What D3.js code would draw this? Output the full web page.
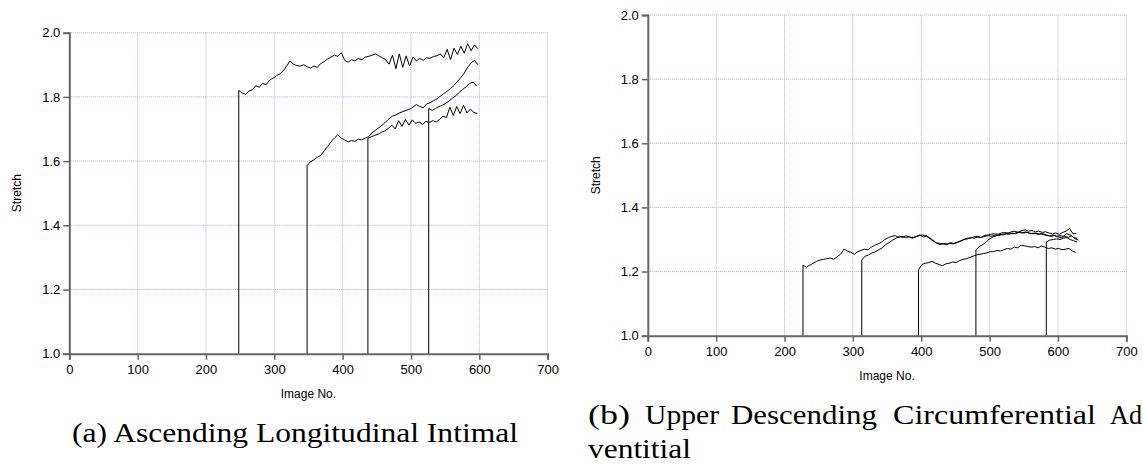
<!DOCTYPE html>
<html>
<head>
<meta charset="UTF-8">
<title></title>
<style>
  body { margin: 0; background: #fff; }
  svg { display: block; }
</style>
</head>
<body>
<div id="chart"></div>
<script src="https://d3js.org/d3.v7.min.js"></script>
<script>
// ---- data: each series starts at `start`, one value every 5 images ----
var step = 5;
var xTicks = [0, 100, 200, 300, 400, 500, 600, 700];
var yTicks = [1.0, 1.2, 1.4, 1.6, 1.8, 2.0];

// (a) Ascending Longitudinal Intimal
var aStarts = [248, 348, 437, 526];
var a1 = [1.820, 1.812, 1.808, 1.818, 1.822, 1.835, 1.830, 1.842, 1.838, 1.852,
  1.858, 1.866, 1.872, 1.880, 1.896, 1.912, 1.902, 1.898, 1.896, 1.900,
  1.894, 1.890, 1.896, 1.892, 1.904, 1.910, 1.918, 1.924, 1.930, 1.926,
  1.938, 1.914, 1.908, 1.916, 1.912, 1.920, 1.916, 1.924, 1.926, 1.930,
  1.934, 1.928, 1.922, 1.916, 1.902, 1.930, 1.888, 1.934, 1.892, 1.928,
  1.896, 1.924, 1.912, 1.920, 1.914, 1.922, 1.920, 1.926, 1.928, 1.934,
  1.922, 1.948, 1.916, 1.952, 1.932, 1.958, 1.936, 1.966, 1.944, 1.962,
  1.950];
var a2 = [1.586, 1.598, 1.604, 1.612, 1.618, 1.632, 1.645, 1.660, 1.672, 1.682,
  1.672, 1.666, 1.660, 1.664, 1.662, 1.668, 1.666, 1.672, 1.676, 1.688,
  1.696, 1.704, 1.712, 1.722, 1.732, 1.740, 1.744, 1.750, 1.754, 1.758,
  1.762, 1.768, 1.776, 1.770, 1.766, 1.778, 1.782, 1.788, 1.794, 1.802,
  1.810, 1.818, 1.826, 1.836, 1.848, 1.860, 1.874, 1.892, 1.906, 1.914,
  1.900];
var a3 = [1.671, 1.676, 1.680, 1.684, 1.690, 1.694, 1.702, 1.712, 1.700, 1.726,
  1.708, 1.730, 1.712, 1.728, 1.718, 1.722, 1.714, 1.724, 1.720, 1.726,
  1.722, 1.730, 1.740, 1.736, 1.768, 1.742, 1.770, 1.748, 1.774, 1.750,
  1.762, 1.752, 1.748];
var a4 = [1.764, 1.758, 1.764, 1.770, 1.774, 1.780, 1.788, 1.796, 1.804, 1.814,
  1.824, 1.832, 1.842, 1.846, 1.834];

// (b) Upper Descending Circumferential Adventitial
var bStarts = [227, 313, 396, 480, 583];
var b1 = [1.220, 1.214, 1.220, 1.226, 1.232, 1.236, 1.238, 1.240, 1.242, 1.238,
  1.246, 1.254, 1.270, 1.264, 1.260, 1.254, 1.262, 1.266, 1.270, 1.268,
  1.276, 1.282, 1.286, 1.292, 1.300, 1.306, 1.310, 1.312, 1.306, 1.310,
  1.306, 1.308, 1.304, 1.308, 1.312, 1.314, 1.312, 1.306, 1.298, 1.290,
  1.288, 1.286, 1.284, 1.288, 1.286, 1.290, 1.294, 1.300, 1.304, 1.304,
  1.308, 1.310, 1.306, 1.312, 1.314, 1.316, 1.318, 1.316, 1.320, 1.322,
  1.320, 1.324, 1.326, 1.322, 1.328, 1.330, 1.326, 1.328, 1.324, 1.326,
  1.322, 1.324, 1.320, 1.318, 1.320, 1.316, 1.322, 1.326, 1.334, 1.318,
  1.318];
var b2 = [1.236, 1.248, 1.252, 1.258, 1.262, 1.268, 1.274, 1.284, 1.290, 1.298,
  1.304, 1.310, 1.306, 1.312, 1.308, 1.306, 1.310, 1.314, 1.308, 1.310,
  1.302, 1.294, 1.288, 1.284, 1.288, 1.286, 1.290, 1.288, 1.292, 1.296,
  1.300, 1.302, 1.306, 1.304, 1.308, 1.306, 1.310, 1.312, 1.310, 1.314,
  1.312, 1.316, 1.318, 1.316, 1.320, 1.318, 1.322, 1.320, 1.324, 1.320,
  1.318, 1.320, 1.316, 1.318, 1.314, 1.312, 1.314, 1.310, 1.312, 1.310,
  1.318, 1.314, 1.306, 1.304];
var b3 = [1.205, 1.222, 1.226, 1.228, 1.232, 1.226, 1.222, 1.218, 1.224, 1.226,
  1.230, 1.228, 1.234, 1.238, 1.240, 1.244, 1.248, 1.252, 1.254, 1.256,
  1.258, 1.262, 1.262, 1.266, 1.264, 1.268, 1.272, 1.270, 1.276, 1.274,
  1.282, 1.280, 1.278, 1.276, 1.278, 1.274, 1.280, 1.276, 1.272, 1.274,
  1.270, 1.272, 1.268, 1.270, 1.272, 1.264, 1.260];
var b4 = [1.268, 1.278, 1.284, 1.292, 1.302, 1.308, 1.312, 1.316, 1.314, 1.318,
  1.320, 1.318, 1.322, 1.324, 1.320, 1.322, 1.318, 1.320, 1.316, 1.318,
  1.314, 1.312, 1.310, 1.312, 1.308, 1.306, 1.310, 1.306, 1.312, 1.302,
  1.298];
var b5 = [1.292, 1.298, 1.300, 1.302, 1.300, 1.304, 1.306, 1.300, 1.296, 1.292];

var width = 1143, height = 466;
var sans = "'Liberation Sans', Arial, Helvetica, sans-serif";
var serif = "'Liberation Serif', 'Times New Roman', serif";

var svg = d3.select("#chart")
  .append("svg")
  .attr("width", width)
  .attr("height", height);

function panel(box, starts, series) {
  var x = d3.scaleLinear().domain([0, 700]).range([box.left, box.right]);
  var y = d3.scaleLinear().domain([1, 2]).range([box.bottom, box.top]);
  var g = svg.append("g");

  // grid
  g.selectAll(".vg")
    .data(xTicks.slice(1))
    .join("line")
    .attr("x1", function(d) { return x(d); })
    .attr("x2", function(d) { return x(d); })
    .attr("y1", y(1)).attr("y2", y(2))
    .attr("stroke", "#aaaaff").attr("stroke-width", 1)
    .attr("stroke-dasharray", "1,1");
  g.selectAll(".hg")
    .data(yTicks.slice(1))
    .join("line")
    .attr("x1", x(0)).attr("x2", x(700))
    .attr("y1", function(d) { return y(d); })
    .attr("y2", function(d) { return y(d); })
    .attr("stroke", "#aaaaff").attr("stroke-width", 1)
    .attr("stroke-dasharray", "1,1");

  // series: vertical jump from 1.0 then the trace
  var line = d3.line()
    .x(function(d) { return x(d[0]); })
    .y(function(d) { return y(d[1]); });
  series.forEach(function(vals, i) {
    var pts = [[starts[i], 1]];
    vals.forEach(function(v, k) { pts.push([starts[i] + k * step, v]); });
    g.append("path")
      .datum(pts)
      .attr("d", line)
      .attr("fill", "none")
      .attr("stroke", "#000")
      .attr("stroke-width", 1);
  });

  // axes
  var xa = g.append("g")
    .attr("transform", "translate(0," + y(1) + ")")
    .call(d3.axisBottom(x).tickValues(xTicks).tickSize(6).tickPadding(5));
  var ya = g.append("g")
    .attr("transform", "translate(" + x(0) + ",0)")
    .call(d3.axisLeft(y).tickValues(yTicks).tickFormat(d3.format(".1f")).tickSize(6).tickPadding(3));
  [xa, ya].forEach(function(a) {
    a.attr("font-family", sans).attr("font-size", 13);
    a.select(".domain").attr("stroke", "#666").attr("stroke-width", 2);
    a.selectAll(".tick line").attr("stroke", "#666").attr("stroke-width", 1.5);
    a.selectAll("text").attr("fill", "#000");
  });

  g.append("text")
    .attr("x", (box.left + box.right) / 2)
    .attr("y", box.bottom + 44)
    .attr("text-anchor", "middle")
    .attr("font-family", sans)
    .attr("font-size", 12)
    .text("Image No.");
  g.append("text")
    .attr("transform", "translate(" + (box.left - 48) + "," + ((box.top + box.bottom) / 2) + ") rotate(-90)")
    .attr("text-anchor", "middle")
    .attr("font-family", sans)
    .attr("font-size", 12)
    .text("Stretch");
}

panel({ left: 69.3, right: 547.6, top: 32.7, bottom: 353.7 }, aStarts, [a1, a2, a3, a4]);
panel({ left: 647.8, right: 1126.3, top: 15, bottom: 335.7 }, bStarts, [b1, b2, b3, b4, b5]);

// captions
svg.append("text")
  .attr("x", 72).attr("y", 442)
  .attr("textLength", 446).attr("lengthAdjust", "spacingAndGlyphs")
  .attr("font-family", serif).attr("font-size", 27)
  .text("(a) Ascending Longitudinal Intimal");

var bWords = [["(b)", 588, 42], ["Upper", 645, 74], ["Descending", 731, 146],
  ["Circumferential", 893, 203], ["Ad", 1110, 32]];
svg.selectAll(".bw")
  .data(bWords)
  .join("text")
  .attr("x", function(d) { return d[1]; })
  .attr("y", 424)
  .attr("textLength", function(d) { return d[2]; })
  .attr("lengthAdjust", "spacingAndGlyphs")
  .attr("font-family", serif).attr("font-size", 27)
  .text(function(d) { return d[0]; });
svg.append("text")
  .attr("x", 588).attr("y", 458)
  .attr("textLength", 103).attr("lengthAdjust", "spacingAndGlyphs")
  .attr("font-family", serif).attr("font-size", 27)
  .text("ventitial");
</script>
</body>
</html>
